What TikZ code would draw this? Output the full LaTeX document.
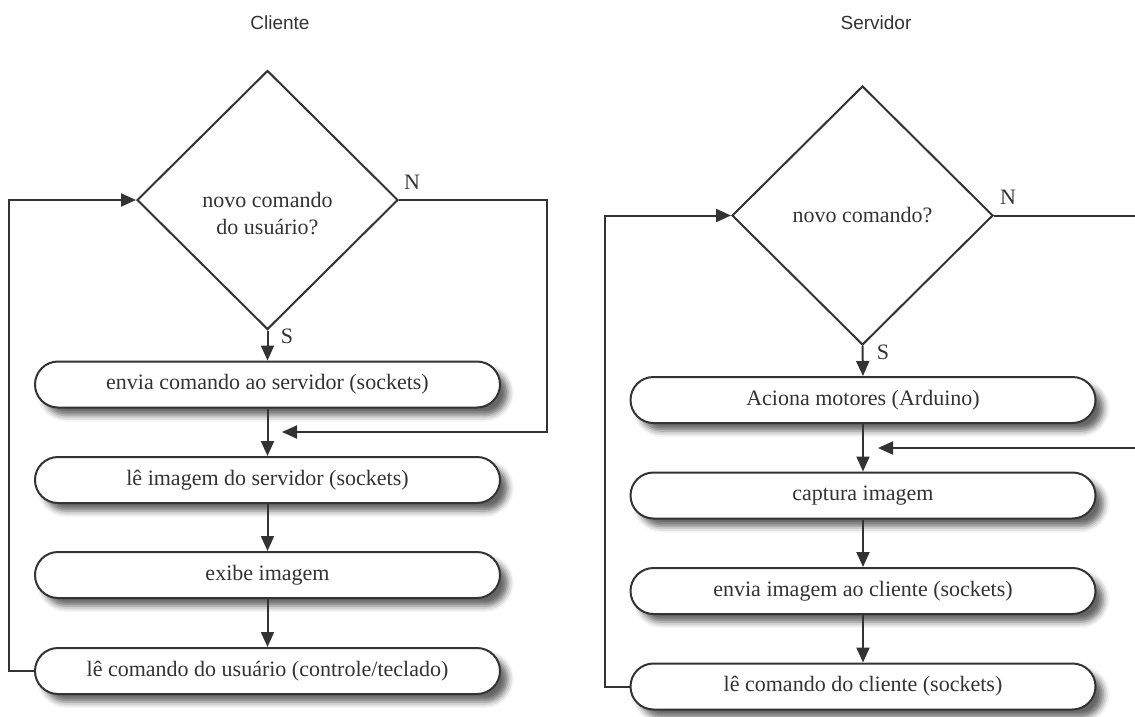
\documentclass[tikz,border=0pt]{standalone}
\usepackage{fontspec}
\setmainfont{Liberation Serif}
\newfontfamily\titlefont{Liberation Sans}
\usetikzlibrary{shapes.geometric,shapes.misc,arrows.meta,shadows.blur}
\definecolor{linegray}{HTML}{333333}

\begin{document}
\begin{tikzpicture}[x=1pt,y=-1pt,
  every node/.style={text=linegray,font=\fontsize{22}{27}\selectfont},
  line/.style={draw=linegray,line width=2pt},
  arr/.style={line,-{Triangle[length=15pt,width=13pt]}},
  decision/.style={diamond,draw=linegray,line width=2pt,inner sep=0pt,
    minimum width=261pt,minimum height=259pt},
  process/.style={rounded rectangle,draw=linegray,line width=2pt,fill=white,
    minimum width=465pt,minimum height=46pt,inner sep=0pt,
    blur shadow={shadow xshift=8pt,shadow yshift=-8pt,shadow blur radius=6pt,shadow opacity=60}},
  title/.style={font=\titlefont\fontsize{19}{22}\selectfont}]
			\useasboundingbox (0,0) rectangle (1135,716);
			% Cliente
			\node[title] (tC) at (280,23) {Cliente};
			\node[decision] (qC) at (267.5,200) {};
			\node[align=center] (qCt) at (267.5,213.5) {novo comando\\do usuário?};
			\node (nC) at (412,182) {N};
			\node (sC) at (287,336) {S};
			\node[process] (envC) at (267.5,384.5) {envia comando ao servidor (sockets)};
			\node[process] (leC) at (267.5,480) {lê imagem do servidor (sockets)};
			\node[process] (exC) at (267.5,575) {exibe imagem};
			\node[process] (cmdC) at (267.5,671) {lê comando do usuário (controle/teclado)};
			\coordinate (jC) at (282,432);
			\draw[arr] (qC.south) -- (envC.north);
			\draw[arr] (envC.south) -- (leC.north);
			\draw[arr] (leC.south) -- (exC.north);
			\draw[arr] (exC.south) -- (cmdC.north);
			\draw[arr] (qC.east) -| (546.5,432) -- (jC);
			\draw[arr] (cmdC.west) -- (8.5,671) |- (qC.west);
			% Servidor
			\node[title] (tS) at (876,23) {Servidor};
			\node[decision] (qS) at (862.5,215.5) {novo comando?};
			\node (nS) at (1008,197) {N};
			\node (sS) at (883,352) {S};
			\node[process] (motS) at (863,400) {Aciona motores (Arduino)};
			\node[process] (capS) at (863,495.5) {captura imagem};
			\node[process] (envS) at (863,591) {envia imagem ao cliente (sockets)};
			\node[process] (cmdS) at (863,686.5) {lê comando do cliente (sockets)};
			\coordinate (eS1) at (1135,215.5);
			\coordinate (eS2) at (1135,448);
			\coordinate (jS) at (878,448);
			\draw[arr] (qS.south) -- (motS.north);
			\draw[arr] (motS.south) -- (capS.north);
			\draw[arr] (capS.south) -- (envS.north);
			\draw[arr] (envS.south) -- (cmdS.north);
			\draw[line] (qS.east) -- (eS1);
			\draw[arr] (eS2) -- (jS);
			\draw[arr] (cmdS.west) -- (604.5,686.5) |- (qS.west);
		\end{tikzpicture}
\end{document}
